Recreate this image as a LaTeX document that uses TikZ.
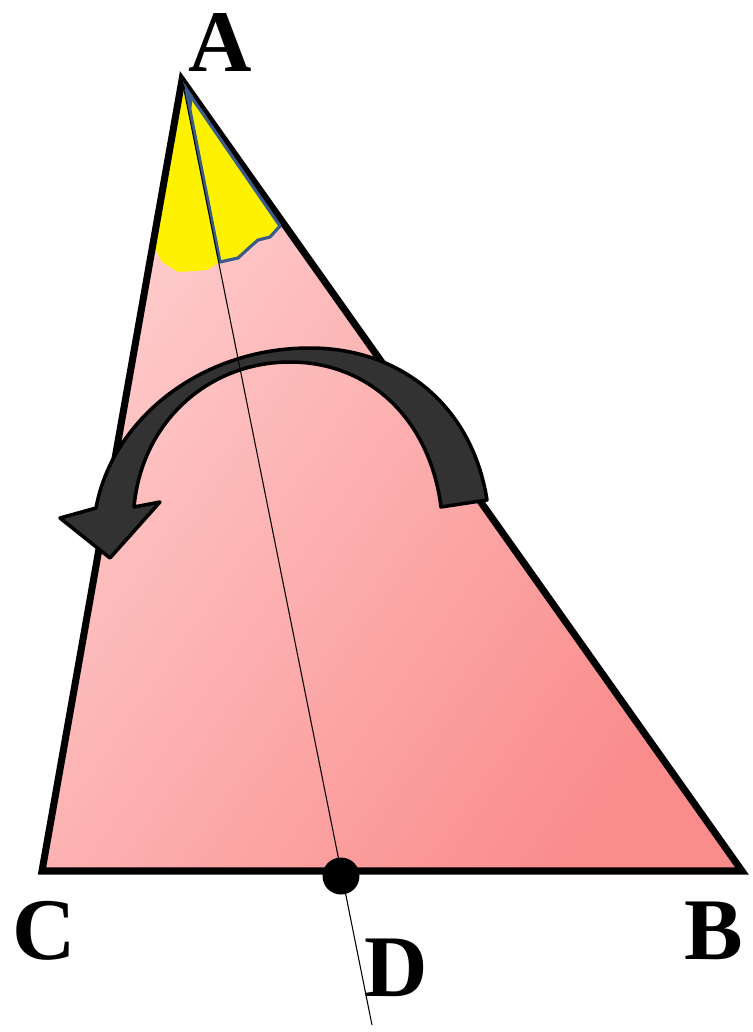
\documentclass[tikz,border=0pt]{standalone}
\usepackage{fontspec}
\setmainfont{Liberation Serif}
\usetikzlibrary{positioning}
\definecolor{pinklight}{RGB}{255,206,206}
\definecolor{pinkdark}{RGB}{250,140,140}
\definecolor{wedgeblue}{RGB}{58,92,138}
\definecolor{arrowgray}{RGB}{50,50,50}
\tikzstyle{vertex}=[font=\fontsize{50}{52}\selectfont\bfseries, inner sep=0pt]
\tikzstyle{side}=[line width=4pt, line join=miter]
\tikzstyle{turn}=[fill=arrowgray, draw=black, line width=2pt, line join=round]

\begin{document}
\begin{tikzpicture}[x=0.02cm, y=-0.02cm]
  \useasboundingbox (0,0) rectangle (753,1032);
  \coordinate (A) at (182,80);
  \coordinate (C) at (42,871);
  \coordinate (B) at (742,871);
  \coordinate (Dend) at (372,1025);
  % triangle fill
  \shade[left color=pinklight, right color=pinkdark, shading angle=55]
    (A) -- (C) -- (B) -- cycle;
  % angle wedges
  \fill[yellow] (A) -- (151,240) -- (162,262) -- (178,272) -- (207,270)
    -- (220,262) -- cycle;
  \draw[side] (A) -- (C) -- (B) -- cycle;
  \filldraw[fill=yellow, draw=wedgeblue, line width=1.8pt, line join=round]
    (186,90) -- (220,262) -- (238,258) -- (250,247) -- (258,240)
    -- (270,237) -- (280,226) -- (188,92) -- cycle;
  \fill[wedgeblue] (A) -- (186,90) -- (190,118) -- (193,96) -- cycle;
  % rotation arrow
  \draw[turn] (487,500) .. controls (472,405) and (400,348) .. (310,348)
    .. controls (200,348) and (112,420) .. (96,508)
    -- (60,518) -- (110,558) -- (160,502) -- (134,507)
    .. controls (142,420) and (210,362) .. (290,362)
    .. controls (370,362) and (430,420) .. (441,507) -- cycle;
  % bisector
  \node[circle, fill=black, inner sep=0pt, minimum size=0.74cm] (D) at (341,876) {};
  \draw[line width=0.6pt] (A) -- (Dend);
  \node[vertex] (lblA) at (220,42) {A};
  \node[vertex] (lblC) at (44,931) {C};
  \node[vertex] (lblB) at (714,931) {B};
  \node[vertex] (lblD) at (396,968) {D};
\end{tikzpicture}
\end{document}
